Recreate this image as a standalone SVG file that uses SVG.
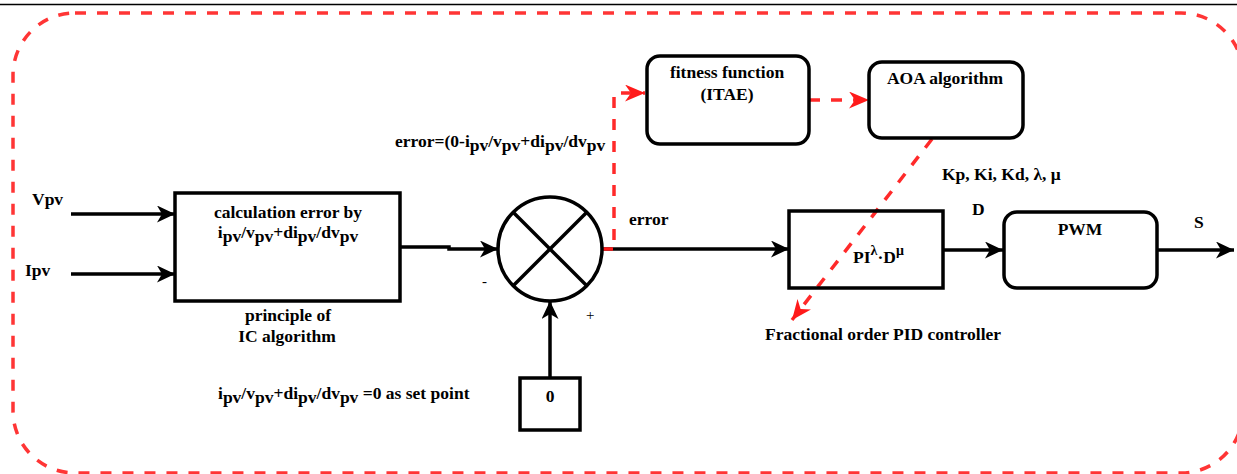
<svg xmlns="http://www.w3.org/2000/svg" width="1237" height="474" viewBox="0 0 1237 474">
<defs>
<style>
text{font-family:"Liberation Serif","Times New Roman",serif;font-weight:bold;font-size:17.5px;fill:#000}
.c{text-anchor:middle}
.box{fill:#fff;stroke:#000;stroke-width:3.5}
.ln{fill:none;stroke:#000;stroke-width:3.5}
.rd{fill:none;stroke:#ff2a2a;stroke-width:3.5;stroke-dasharray:11 11}
</style>
<marker id="ab" markerUnits="userSpaceOnUse" markerWidth="20" markerHeight="18" refX="18" refY="8.5" orient="auto">
<path d="M0,0 L18,8.5 L0,17 L5,8.5 z" fill="#000"/>
</marker>
<marker id="ar" markerUnits="userSpaceOnUse" markerWidth="22" markerHeight="18" refX="20" refY="8.5" orient="auto">
<path d="M0,0 L20,8.5 L0,17 L6,8.5 z" fill="#ff1a1a"/>
</marker>
</defs>
<rect width="1237" height="474" fill="#fff"/>
<line x1="0" y1="4.5" x2="1237" y2="4.5" stroke="#000" stroke-width="1.5"/>
<rect x="13" y="13" width="1230" height="460" rx="62" ry="62" fill="none" stroke="#ff3535" stroke-width="3.5" stroke-dasharray="11 11"/>

<g id="connectors">
<line class="ln" x1="71" y1="214" x2="175" y2="214" marker-end="url(#ab)"/>
<line class="ln" x1="71" y1="274" x2="175" y2="274" marker-end="url(#ab)"/>
<polyline class="ln" points="400,247 449,247 449,249 498,249" marker-end="url(#ab)"/>
<line class="ln" x1="550" y1="378" x2="550" y2="301" marker-end="url(#ab)"/>
<line class="ln" x1="602" y1="249" x2="789" y2="249" marker-end="url(#ab)"/>
<line x1="603" y1="249" x2="613" y2="249" stroke="#ff1a1a" stroke-width="3.5"/>
<polyline class="rd" points="614,240 614,93 645,93" marker-end="url(#ar)"/>
<line class="rd" x1="809" y1="100" x2="869" y2="100" marker-end="url(#ar)"/>
<line class="rd" x1="932" y1="139" x2="792" y2="320" marker-end="url(#ar)"/>
<line class="ln" x1="943" y1="250" x2="1003" y2="250" marker-end="url(#ab)"/>
<line class="ln" x1="1157" y1="250" x2="1234" y2="250" marker-end="url(#ab)"/>
</g>

<g id="inputs">
<text x="32" y="205">Vpv</text>
<text x="25" y="276">Ipv</text>
</g>

<g id="calc">
<rect class="box" x="175" y="193" width="225" height="108"/>
<text class="c" x="288" y="218">calculation error by</text>
<text class="c" x="288" y="238">i<tspan dy="4">pv</tspan><tspan dy="-4">/v</tspan><tspan dy="4">pv</tspan><tspan dy="-4">+di</tspan><tspan dy="4">pv</tspan><tspan dy="-4">/dv</tspan><tspan dy="4">pv</tspan></text>
<text class="c" x="288" y="321">principle of</text>
<text class="c" x="287" y="342">IC algorithm</text>
</g>

<g id="sum">
<circle cx="550" cy="249" r="52" fill="#fff" stroke="#000" stroke-width="3.5"/>
<line class="ln" x1="513.2" y1="212.2" x2="586.8" y2="285.8"/>
<line class="ln" x1="586.8" y1="212.2" x2="513.2" y2="285.8"/>
<text x="482" y="286" style="font-weight:normal;font-size:15px">-</text>
<text x="586" y="320" style="font-weight:normal;font-size:15px">+</text>
</g>

<g id="setpoint">
<rect class="box" x="520" y="378" width="60" height="52"/>
<text class="c" x="550" y="402">0</text>
<text x="218" y="399">i<tspan dy="4">pv</tspan><tspan dy="-4">/v</tspan><tspan dy="4">pv</tspan><tspan dy="-4">+di</tspan><tspan dy="4">pv</tspan><tspan dy="-4">/dv</tspan><tspan dy="4">pv</tspan><tspan dy="-4"> =0 as set point</tspan></text>
</g>

<g id="error-labels">
<text x="395" y="147">error=(0-i<tspan dy="4">pv</tspan><tspan dy="-4">/v</tspan><tspan dy="4">pv</tspan><tspan dy="-4">+di</tspan><tspan dy="4">pv</tspan><tspan dy="-4">/dv</tspan><tspan dy="4">pv</tspan></text>
<text x="629" y="225">error</text>
</g>

<g id="fitness">
<rect class="box" x="647" y="56" width="162" height="88" rx="13" ry="13"/>
<text class="c" x="727" y="78">fitness function</text>
<text class="c" x="727" y="100">(ITAE)</text>
</g>

<g id="aoa">
<rect class="box" x="869" y="62" width="154" height="76" rx="13" ry="13"/>
<text class="c" x="945" y="84">AOA algorithm</text>
<text x="942" y="180">Kp, Ki, Kd, λ, μ</text>
</g>

<g id="pid">
<rect class="box" x="789" y="211" width="154" height="77" fill="none" style="fill:none"/>
<text x="853" y="263">PI<tspan dy="-8" font-size="14">λ</tspan><tspan dy="8">·D</tspan><tspan dy="-8" font-size="14">μ</tspan></text>
<text x="765" y="340">Fractional order PID controller</text>
<text x="972" y="215">D</text>
</g>

<g id="pwm">
<rect class="box" x="1004" y="212" width="153" height="76" rx="13" ry="13"/>
<text class="c" x="1080" y="235">PWM</text>
<text x="1194" y="228">S</text>
</g>
</svg>
